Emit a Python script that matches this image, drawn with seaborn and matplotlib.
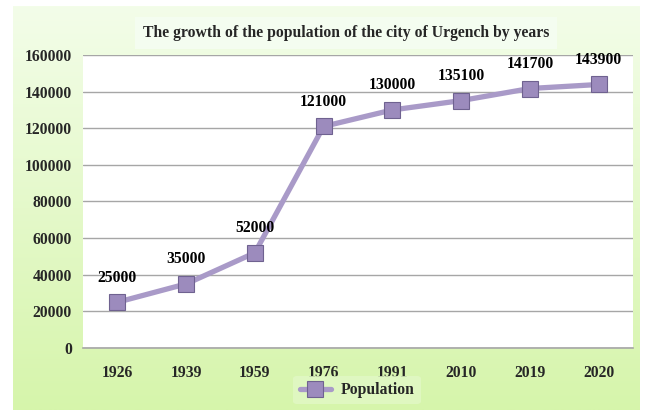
import numpy as np
import pandas as pd
import matplotlib.pyplot as plt
import seaborn as sns
from matplotlib.colors import LinearSegmentedColormap

# data
years = ['1926', '1939', '1959', '1976', '1991', '2010', '2019', '2020']
population = [25000, 35000, 52000, 121000, 130000, 135100, 141700, 143900]
y_ticks = [0, 20000, 40000, 60000, 80000, 100000, 120000, 140000, 160000]

df = pd.DataFrame({'Year': years, 'Population': population})

sns.set_theme(style='white')
plt.rcParams['font.family'] = ['Liberation Serif', 'DejaVu Serif']
plt.rcParams['font.weight'] = 'bold'

fs = 11.3

fig = plt.figure(figsize=(6.47, 4.13), dpi=100)
fig.patch.set_facecolor('white')

# green gradient panel behind the chart
bg = fig.add_axes([13 / 647, 3 / 413, 627 / 647, 404 / 413], zorder=0)
grad_cmap = LinearSegmentedColormap.from_list('g', ['#f3fde9', '#d6f5ab'])
bg.imshow(np.linspace(0, 1, 256).reshape(-1, 1), aspect='auto', cmap=grad_cmap,
          extent=[0, 1, 0, 1])
bg.set_axis_off()

ax = fig.add_axes([83 / 647, 65 / 413, 550 / 647, 293 / 413], zorder=1)
ax.set_facecolor('white')

line_color = '#a99ac8'
sns.lineplot(data=df, x='Year', y='Population', ax=ax, color=line_color,
             linewidth=3.8, marker='s', markersize=11.5,
             markerfacecolor='#9c8bbd', markeredgecolor='#6f6290',
             markeredgewidth=0.8, label='Population', sort=False)

for i, v in enumerate(population):
    ax.annotate(str(v), (i, v), xytext=(0, 12), textcoords='offset points',
                ha='center', va='bottom', fontsize=fs, fontweight='bold',
                color='black')

ax.set_xlim(-0.5, len(years) - 0.5)
ax.set_ylim(0, 160000)
ax.set_yticks(y_ticks)
ax.set_yticklabels([str(t) for t in y_ticks], fontsize=fs, fontweight='bold')
ax.set_xticks(range(len(years)))
ax.set_xticklabels(years, fontsize=fs, fontweight='bold')
ax.tick_params(axis='both', length=0, pad=8)
ax.tick_params(axis='x', pad=12)
ax.yaxis.grid(True, color='#a6a6a6', linewidth=1.0)
ax.set_axisbelow(True)
for side in ['top', 'right', 'left']:
    ax.spines[side].set_visible(False)
ax.spines['bottom'].set_color('#a6a6a6')
ax.spines['bottom'].set_linewidth(1.2)
ax.set_xlabel('')
ax.set_ylabel('')

fig.text(346 / 647, 1 - 33 / 413,
         'The growth of the population of the city of Urgench by years',
         ha='center', va='center', fontsize=fs, fontweight='bold',
         bbox=dict(boxstyle='square,pad=0.5', facecolor='#f4fdf0',
                   edgecolor='none'))

leg = ax.legend(loc='center', bbox_to_anchor=(357 / 647, 1 - 390 / 413),
                bbox_transform=fig.transFigure, frameon=True, fontsize=fs,
                handlelength=2.0, handletextpad=0.6, borderpad=0.4)
leg.get_frame().set_facecolor('#e2f8c6')
leg.get_frame().set_edgecolor('none')
for t in leg.get_texts():
    t.set_fontweight('bold')

fig.savefig('out.png', dpi=100)
